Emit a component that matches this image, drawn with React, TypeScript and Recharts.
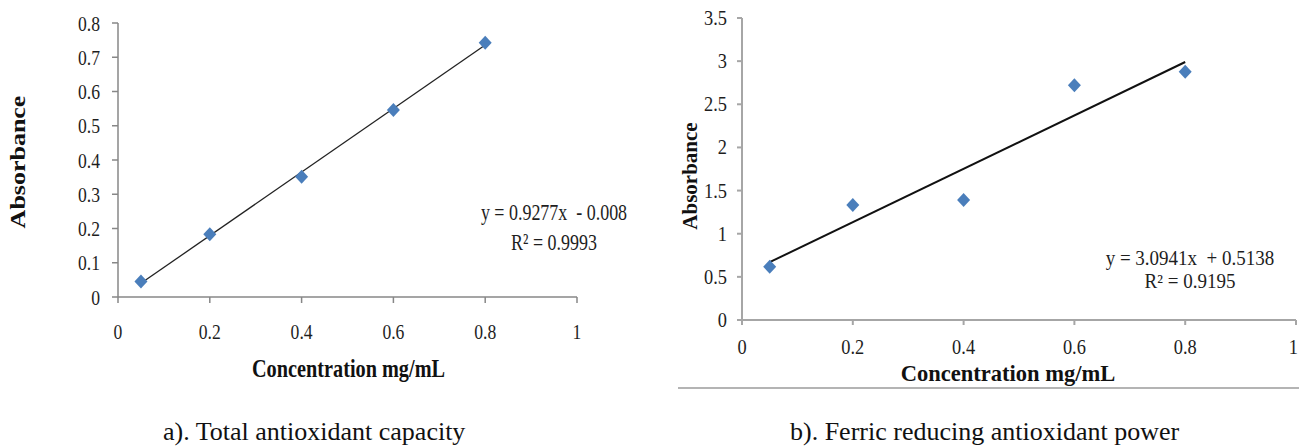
import { ScatterChart, Scatter, XAxis, YAxis, ReferenceLine, Label } from "recharts";

const SERIF = '"Liberation Serif", "Times New Roman", serif';

// a) Total antioxidant capacity
const tacConc = [0.05, 0.2, 0.4, 0.6, 0.8];
const tacAbs = [0.045, 0.183, 0.351, 0.546, 0.742];
const tacFit = [
  { x: 0.05, y: 0.04 },
  { x: 0.8, y: 0.736 },
];
const tacXTicks = [0, 0.2, 0.4, 0.6, 0.8, 1];
const tacYTicks = [0, 0.1, 0.2, 0.3, 0.4, 0.5, 0.6, 0.7, 0.8];

// b) Ferric reducing antioxidant power
const frapConc = [0.05, 0.2, 0.4, 0.6, 0.8];
const frapAbs = [0.618, 1.333, 1.39, 2.72, 2.877];
const frapFit = [
  { x: 0.05, y: 0.67 },
  { x: 0.8, y: 2.99 },
];
const frapXTicks = [0, 0.2, 0.4, 0.6, 0.8, 1];
const frapYTicks = [0, 0.5, 1, 1.5, 2, 2.5, 3, 3.5];

const tacData = tacConc.map((x, i) => ({ x, y: tacAbs[i] }));
const frapData = frapConc.map((x, i) => ({ x, y: frapAbs[i] }));

function Diamond(props: any) {
  const { cx, cy } = props;
  if (cx == null || cy == null) return null;
  return (
    <path
      d={`M${cx},${cy - 7} L${cx + 6.5},${cy} L${cx},${cy + 7} L${cx - 6.5},${cy} Z`}
      fill="#4A7EBB"
    />
  );
}

function SerifTick(props: any) {
  const { x, y, payload, fs, sx, vertical, maxX } = props;
  // keep the last x label inside the chart edge
  let anchor = vertical ? "end" : "middle";
  let tx = x;
  if (!vertical && maxX != null && x + fs * 0.3 > maxX) {
    anchor = "end";
    tx = maxX - 1;
  }
  return (
    <text
      transform={`translate(${tx},${y}) scale(${sx},1)`}
      textAnchor={anchor}
      dy={vertical ? "0.35em" : "0.71em"}
      fontSize={fs}
      fontFamily={SERIF}
      fill="#1e1e1e"
    >
      {String(payload.value)}
    </text>
  );
}

function xTitle(text: string, fs: number, sx: number, dx: number, dy: number) {
  return (p: any) => {
    const { x, y, width } = p.viewBox;
    return (
      <text
        transform={`translate(${x + width / 2 + dx},${y + dy}) scale(${sx},1)`}
        textAnchor="middle"
        fontSize={fs}
        fontWeight="bold"
        fontFamily={SERIF}
        fill="#111"
      >
        {text}
      </text>
    );
  };
}

function yTitle(text: string, fs: number, sy: number, bx: number, dy: number) {
  return (p: any) => {
    const { x, y, height } = p.viewBox;
    return (
      <text
        transform={`translate(${x + bx},${y + height / 2 + dy}) rotate(-90) scale(1,${sy})`}
        textAnchor="middle"
        fontSize={fs}
        fontWeight="bold"
        fontFamily={SERIF}
        fill="#111"
      >
        {text}
      </text>
    );
  };
}

const textBox = (left: number, top: number, fs: number, lh: number, sx: number): React.CSSProperties => ({
  position: "absolute",
  left,
  top,
  width: 240,
  textAlign: "center",
  fontFamily: SERIF,
  fontSize: fs,
  lineHeight: `${lh}px`,
  whiteSpace: "pre",
  color: "#1e1e1e",
  transform: `scaleX(${sx})`,
  transformOrigin: "center",
});

const caption: React.CSSProperties = {
  position: "absolute",
  top: 419,
  fontFamily: SERIF,
  fontSize: 26,
  lineHeight: "26px",
  color: "#111",
  whiteSpace: "nowrap",
};

export default function App() {
  return (
    <div style={{ position: "absolute", left: 0, top: 0, width: 1299, height: 448, background: "#fff", overflow: "hidden" }}>
      <div style={{ position: "absolute", left: 0, top: 0 }}>
        <ScatterChart width={650} height={400} margin={{ top: 23, right: 73, bottom: 0, left: 0 }}>
          <XAxis
            type="number"
            dataKey="x"
            domain={[0, 1]}
            ticks={tacXTicks}
            height={103}
            tickSize={6}
            tickMargin={20}
            axisLine={{ stroke: "#878787", strokeWidth: 1.5 }}
            tickLine={{ stroke: "#878787", strokeWidth: 1.5 }}
            tick={(p: any) => <SerifTick {...p} fs={22} sx={0.8} />}
            interval={0}
          >
            <Label content={xTitle("Concentration mg/mL", 26, 0.78, 1, 80)} />
          </XAxis>
          <YAxis
            type="number"
            dataKey="y"
            domain={[0, 0.8]}
            ticks={tacYTicks}
            width={118}
            tickSize={6}
            tickMargin={12}
            axisLine={{ stroke: "#878787", strokeWidth: 1.5 }}
            tickLine={{ stroke: "#878787", strokeWidth: 1.5 }}
            tick={(p: any) => <SerifTick {...p} fs={22} sx={0.8} vertical />}
            interval={0}
          >
            <Label content={yTitle("Absorbance", 26, 0.78, 25, 2)} />
          </YAxis>
          <ReferenceLine segment={tacFit} stroke="#222" strokeWidth={1.3} ifOverflow="visible" />
          <Scatter data={tacData} shape={Diamond} isAnimationActive={false} />
        </ScatterChart>
      </div>

      <div style={{ position: "absolute", left: 650, top: 0 }}>
        <ScatterChart width={649} height={400} margin={{ top: 18, right: 3, bottom: 0, left: 0 }}>
          <XAxis
            type="number"
            dataKey="x"
            domain={[0, 1]}
            ticks={frapXTicks}
            height={80}
            tickSize={5}
            tickMargin={15}
            axisLine={{ stroke: "#a6a6a6", strokeWidth: 2 }}
            tickLine={{ stroke: "#a6a6a6", strokeWidth: 2 }}
            tick={(p: any) => <SerifTick {...p} fs={20} sx={0.92} maxX={649} />}
            interval={0}
          >
            <Label content={xTitle("Concentration mg/mL", 23, 0.98, -11, 61)} />
          </XAxis>
          <YAxis
            type="number"
            dataKey="y"
            domain={[0, 3.5]}
            ticks={frapYTicks}
            width={92}
            tickSize={5}
            tickMargin={10}
            axisLine={{ stroke: "#a6a6a6", strokeWidth: 2 }}
            tickLine={{ stroke: "#a6a6a6", strokeWidth: 2 }}
            tick={(p: any) => <SerifTick {...p} fs={20} sx={0.92} vertical />}
            interval={0}
          >
            <Label content={yTitle("Absorbance", 21, 1, 47, 7)} />
          </YAxis>
          <ReferenceLine segment={frapFit} stroke="#111" strokeWidth={2} ifOverflow="visible" />
          <Scatter data={frapData} shape={Diamond} isAnimationActive={false} />
        </ScatterChart>
      </div>

      <div style={textBox(434, 198, 23, 30, 0.78)}>
        {"y = 0.9277x  - 0.008\nR\u00b2 = 0.9993"}
      </div>
      <div style={textBox(1070, 247, 20, 23, 0.95)}>
        {"y = 3.0941x  + 0.5138\nR\u00b2 = 0.9195"}
      </div>

      <div style={{ position: "absolute", left: 678, top: 387, width: 621, height: 2, background: "#b4b4b4" }} />

      <div style={{ ...caption, left: 163 }}>a). Total antioxidant capacity</div>
      <div style={{ ...caption, left: 790 }}>b). Ferric reducing antioxidant power</div>
    </div>
  );
}
